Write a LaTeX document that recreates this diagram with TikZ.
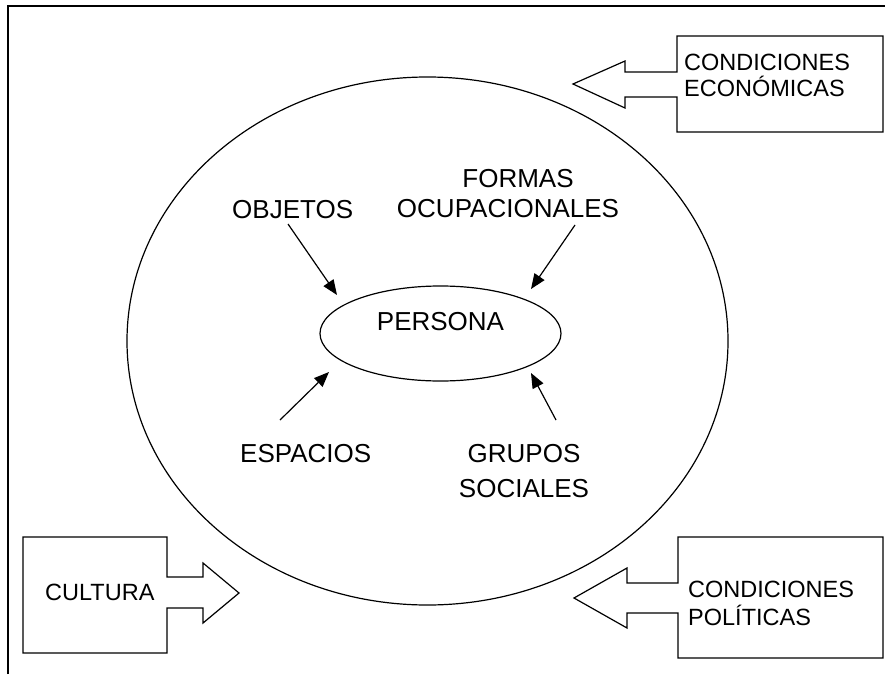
\documentclass[tikz,border=0pt]{standalone}
\usepackage{fontspec}
\setmainfont{Liberation Sans}
\usetikzlibrary{arrows.meta,shapes.geometric}
\begin{document}
\begin{tikzpicture}[x=1pt,y=-1pt,
  shapeline/.style={line width=1.2pt, line join=miter},
  innertxt/.style={font=\fontsize{26}{30}\selectfont, inner sep=0pt, align=center},
  boxtxt/.style={font=\fontsize{23.5}{26.5}\selectfont, inner sep=0pt, align=left, anchor=base west},
  conn/.style={line width=1.2pt, -{Triangle[length=15pt,width=12pt]}}]
\useasboundingbox (0,0) rectangle (885,674);
\fill[white] (0,0) rectangle (885,674);
% frame
\draw[line width=2pt] (8,674) -- (8,6) -- (885,6);
% big ellipse
\node[draw, ellipse, shapeline, inner sep=0pt, minimum width=601pt, minimum height=528pt] (entorno) at (427.5,341) {};
% persona
\node[draw, ellipse, shapeline, inner sep=0pt, minimum width=241pt, minimum height=95pt,
      font=\fontsize{26}{30}\selectfont, text depth=25pt] (persona) at (440.5,333.5) {PERSONA};
% inner texts (base anchor = baseline of last line)
\node[innertxt, anchor=base west] (objetos) at (232,218) {OBJETOS};
\node[innertxt, anchor=base] (formas) at (508,217) {\hspace*{20pt}FORMAS\\OCUPACIONALES};
\node[innertxt, anchor=base west] (espacios) at (240,462) {ESPACIOS};
\node[innertxt, anchor=base, font=\fontsize{26}{35}\selectfont] (grupos) at (524,497) {GRUPOS\\SOCIALES};
% arrow coordinates
\coordinate (objA) at (288,224);
\coordinate (objB) at (337,295);
\coordinate (forA) at (575,225);
\coordinate (forB) at (531,289);
\coordinate (espA) at (280,420);
\coordinate (espB) at (329,372);
\coordinate (gruA) at (556,420);
\coordinate (gruB) at (531,373);
\draw[conn] (objA) -- (objB);
\draw[conn] (forA) -- (forB);
\draw[conn] (espA) -- (espB);
\draw[conn] (gruA) -- (gruB);
% box arrows
\draw[shapeline] (677,36) -- (883,36) -- (883,132) -- (677,132) -- (677,97) -- (625,97) -- (625,108)
  -- (573,84) -- (625,61) -- (625,72) -- (677,72) -- cycle;
\draw[shapeline] (23,537) -- (167,537) -- (167,577) -- (203,577) -- (203,563) -- (239,593)
  -- (203,623) -- (203,608) -- (167,608) -- (167,653) -- (23,653) -- cycle;
\draw[shapeline] (678,537) -- (883,537) -- (883,658) -- (678,658) -- (678,613) -- (627,613) -- (627,628)
  -- (574,598) -- (627,568) -- (627,583) -- (678,583) -- cycle;
% box texts
\node[boxtxt] (econ) at (684,97) {CONDICIONES\\ECONÓMICAS};
\node[boxtxt] (cultura) at (45,600) {CULTURA};
\node[boxtxt, font=\fontsize{23.5}{28}\selectfont] (pol) at (688,625) {CONDICIONES\\POLÍTICAS};
\end{tikzpicture}
\end{document}
